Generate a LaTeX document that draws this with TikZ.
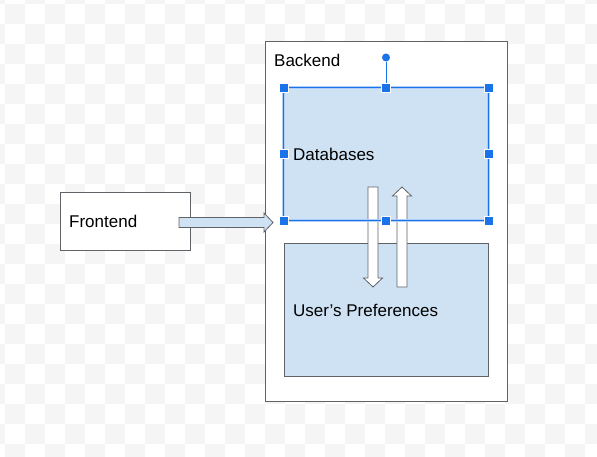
\documentclass[tikz,border=0pt]{standalone}
\usepackage{fontspec}
\setmainfont{Liberation Sans}
\usetikzlibrary{positioning}
\usetikzlibrary{calc}
\definecolor{paleblue}{HTML}{CFE2F3}
\definecolor{selblue}{HTML}{1A73E8}
\definecolor{checkgray}{HTML}{F5F5F5}
\definecolor{edgegray}{HTML}{5F6368}

\tikzset{
  box/.style={draw=edgegray,line width=1,inner sep=0},
  lbl/.style={anchor=base west,inner sep=0,font=\fontsize{17}{20}\selectfont},
  handle/.style={draw=white,fill=selblue,line width=.6,minimum size=9,inner sep=0},
  knob/.style={circle,fill=selblue,minimum size=8,inner sep=0},
  pics/blockarr/.style={code={
    \draw[pic actions] (0,-5) -- (#1-9,-5) -- (#1-9,-9.5) -- (#1,0)
      -- (#1-9,9.5) -- (#1-9,5) -- (0,5) -- cycle;}}
}

\begin{document}
\begin{tikzpicture}[x=1pt,y=-1pt]
\useasboundingbox (0,0) rectangle (597,457);
\clip (0,0) rectangle (597,457);
% checker background
\foreach \j in {0,...,23}
  \foreach \k in {0,...,15}
    \fill[checkgray] ({-15+20*mod(\j,2)+40*\k},{-16+20*\j}) rectangle ++(20,20);
% boxes
\node[box,fill=white,minimum width=130,minimum height=57] (fe) at (125,221.5) {};
\node[box,fill=white,minimum width=242,minimum height=359] (be) at (386,221.5) {};
\node[box,fill=paleblue,minimum width=204,minimum height=132] (db) at (386,154) {};
\node[box,fill=paleblue,minimum width=204,minimum height=132] (pref) at (386,310) {};
\node[lbl] (fetext) at (69,228) {Frontend};
\node[lbl] (betext) at (274,67) {Backend};
\node[lbl] (dbtext) at (293,161) {Databases};
\node[lbl] (preftext) at (293,316) {User’s Preferences};
% block arrows
\coordinate (a) at (179,222.5);
\coordinate (b) at (373,187);
\coordinate (c) at (402,287);
\pic[draw=edgegray,fill=paleblue,line width=.8] at (a) {blockarr=94};
\pic[draw=edgegray,fill=white,line width=.8,rotate=-90] at (b) {blockarr=100};
\pic[draw=edgegray,fill=white,line width=.8,rotate=90] at (c) {blockarr=100};
% selection
\draw[selblue!35,line width=3.5] (db.north west) rectangle (db.south east);
\draw[selblue,line width=1.5] (db.north west) rectangle (db.south east);
\node[knob] (rot) at ($(db.north)+(0,-30)$) {};
\draw[selblue,line width=1] (rot) -- (db.north);
\foreach \p in {north west,north,north east,west,east,south west,south,south east}
  \node[handle] at (db.\p) {};
\end{tikzpicture}
\end{document}
